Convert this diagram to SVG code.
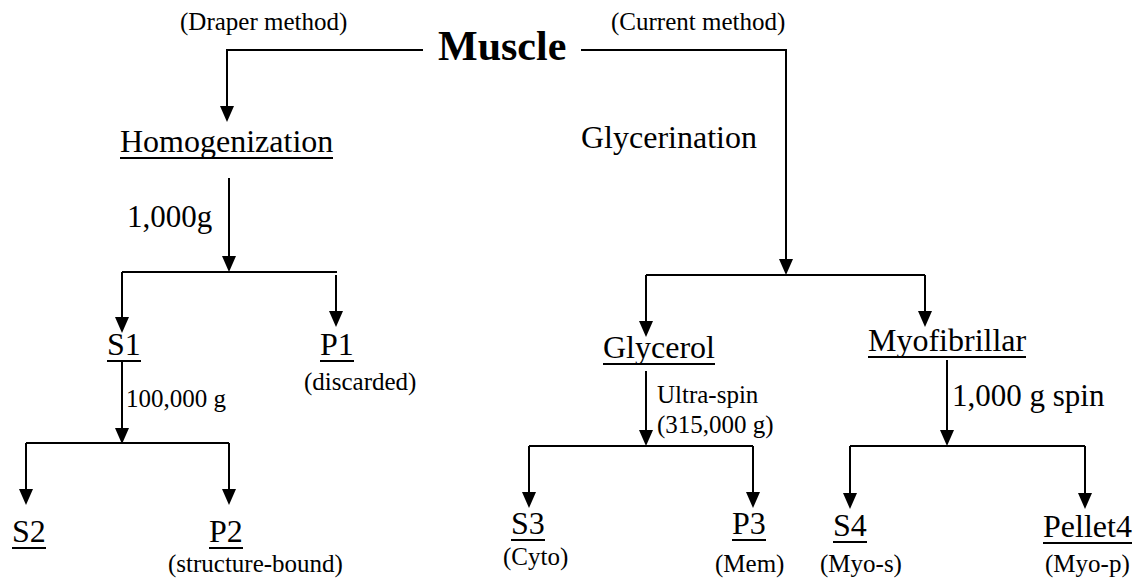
<svg xmlns="http://www.w3.org/2000/svg" width="1134" height="579" viewBox="0 0 1134 579">
<style>
text{font-family:'Liberation Serif','Times New Roman','DejaVu Serif',serif;fill:#000}
.big{font-size:32px}
.sm{font-size:25px}
.title{font-size:42px;font-weight:bold}
.ul{stroke:#000;stroke-width:2}
.c path{fill:none;stroke:#000;stroke-width:2}
</style>
<defs>
<marker id="ah" markerUnits="userSpaceOnUse" markerWidth="16" markerHeight="14" viewBox="0 0 16 14" refX="8" refY="7" orient="auto"><path d="M0,0 L16,7 L0,14 z" fill="#000"/></marker>
</defs>
<g class="c" id="connectors">
<path d="M423,50 H227 V114" marker-end="url(#ah)"/>
<path d="M581,50 H786 V267" marker-end="url(#ah)"/>
<path d="M229,178 V264" marker-end="url(#ah)"/>
<path d="M122,272 H337"/>
<path d="M122,272 V325" marker-end="url(#ah)"/>
<path d="M336,275 V319" marker-end="url(#ah)"/>
<path d="M122,362 V436" marker-end="url(#ah)"/>
<path d="M26,443 H229"/>
<path d="M26,443 V497" marker-end="url(#ah)"/>
<path d="M229,443 V497" marker-end="url(#ah)"/>
<path d="M646,275 H925"/>
<path d="M646,275 V329" marker-end="url(#ah)"/>
<path d="M925,275 V319" marker-end="url(#ah)"/>
<path d="M646,371 V438" marker-end="url(#ah)"/>
<path d="M529,446 H753"/>
<path d="M529,446 V500" marker-end="url(#ah)"/>
<path d="M753,446 V500" marker-end="url(#ah)"/>
<path d="M947,360 V438" marker-end="url(#ah)"/>
<path d="M850,446 H1085"/>
<path d="M850,446 V501" marker-end="url(#ah)"/>
<path d="M1085,446 V501" marker-end="url(#ah)"/>
</g>
<g id="labels">
<text class="sm" x="180" y="30">(Draper method)</text>
<text class="sm" x="611" y="30">(Current method)</text>
<text class="big" x="581" y="148">Glycerination</text>
<text class="big" x="127" y="227" style="font-size:31px">1,000g</text>
<text class="sm" x="126" y="407">100,000 g</text>
<text class="sm" x="657" y="403">Ultra-spin</text>
<text class="sm" x="657" y="433">(315,000 g)</text>
<text class="big" x="952" y="406" style="font-size:31px">1,000 g spin</text>
</g>
<g id="muscle"><text class="title" x="438" y="60">Muscle</text></g>
<g id="homogenization"><text class="big" x="120" y="152">Homogenization</text><line class="ul" x1="120" y1="158" x2="333" y2="158"/></g>
<g id="s1"><text class="big" x="107" y="355">S1</text><line class="ul" x1="107" y1="361" x2="141" y2="361"/></g>
<g id="p1"><text class="big" x="320" y="355">P1</text><line class="ul" x1="320" y1="361" x2="354" y2="361"/><text class="sm" x="304" y="390">(discarded)</text></g>
<g id="s2"><text class="big" x="12" y="542">S2</text><line class="ul" x1="12" y1="548" x2="46" y2="548"/></g>
<g id="p2"><text class="big" x="209" y="542">P2</text><line class="ul" x1="209" y1="548" x2="243" y2="548"/><text class="sm" x="168" y="572">(structure-bound)</text></g>
<g id="glycerol"><text class="big" x="603" y="358">Glycerol</text><line class="ul" x1="603" y1="364" x2="715" y2="364"/></g>
<g id="myofibrillar"><text class="big" x="868" y="351">Myofibrillar</text><line class="ul" x1="868" y1="357" x2="1026" y2="357"/></g>
<g id="s3"><text class="big" x="511" y="534">S3</text><line class="ul" x1="511" y1="540" x2="545" y2="540"/><text class="sm" x="503" y="565">(Cyto)</text></g>
<g id="p3"><text class="big" x="732" y="534">P3</text><line class="ul" x1="732" y1="540" x2="766" y2="540"/><text class="sm" x="715" y="572">(Mem)</text></g>
<g id="s4"><text class="big" x="833" y="536">S4</text><line class="ul" x1="833" y1="542" x2="867" y2="542"/><text class="sm" x="820" y="572">(Myo-s)</text></g>
<g id="pellet4"><text class="big" x="1043" y="537">Pellet4</text><line class="ul" x1="1043" y1="543" x2="1132" y2="543"/><text class="sm" x="1045" y="572">(Myo-p)</text></g>
</svg>
